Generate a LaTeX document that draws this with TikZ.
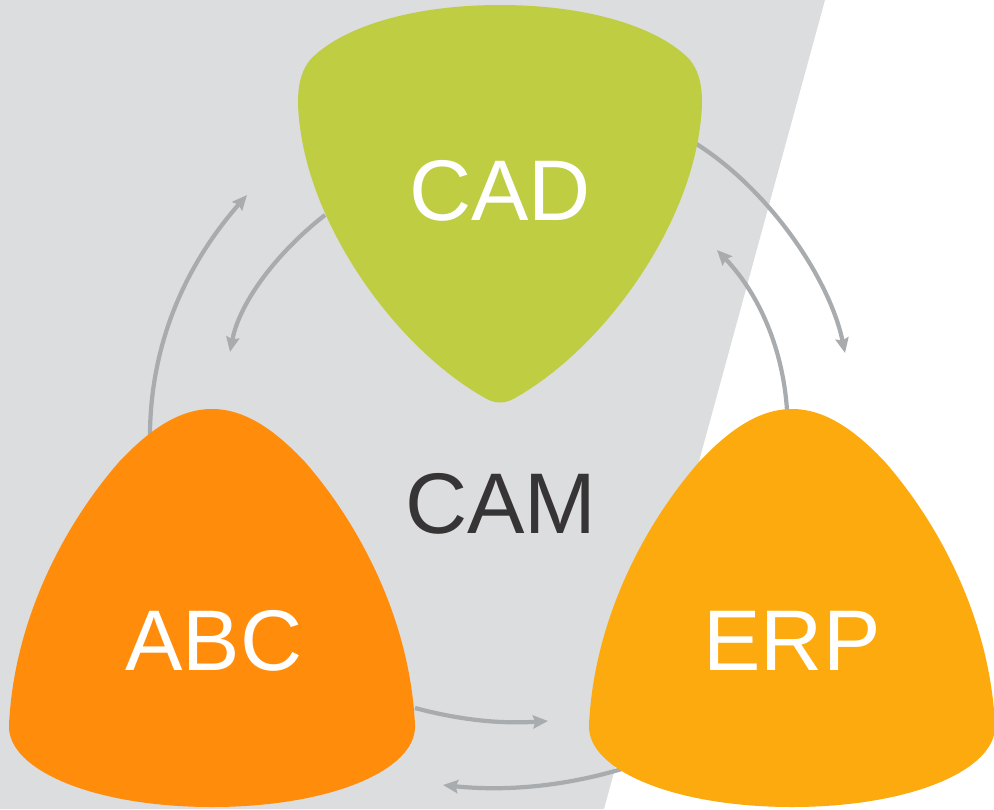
\documentclass[tikz,border=0pt]{standalone}
\usepackage{fontspec}
\setmainfont{Liberation Sans}
\usetikzlibrary{arrows.meta}
\definecolor{fondo}{HTML}{DCDDDF}
\definecolor{verde}{HTML}{BFCD42}
\definecolor{naranja}{HTML}{FF8C0B}
\definecolor{ambar}{HTML}{FDAA0E}
\definecolor{gris}{HTML}{A9ACAE}
\definecolor{oscuro}{HTML}{363435}
\tikzset{
	>={Stealth[length=8.5pt,width=7.5pt,inset=1.2pt]}, % Punta de las flechas
	flecha/.style={->, draw=gris, line width=2.4pt}, % Arcos entre los bloques
	etiqueta/.style={anchor=base, text=white, font=\fontsize{49}{49}\selectfont} % Texto de los bloques
}

\begin{document}
\begin{tikzpicture}[x=0.02cm, y=-0.02cm]
	\useasboundingbox (0,0) rectangle (994,809);
	\fill[fondo] (0,0) -- (825,0) -- (604,809) -- (0,809) -- cycle;

	% extremos de las flechas
	\coordinate (abcArr) at (150,445);
	\coordinate (cadIzq) at (247,195);
	\coordinate (cadSal) at (325,215);
	\coordinate (abcLleg) at (230,352);
	\coordinate (cadDer) at (695,143);
	\coordinate (erpLleg) at (845,353);
	\coordinate (erpArr) at (787,410);
	\coordinate (cadLleg) at (717,250);
	\coordinate (abcDer) at (415,708);
	\coordinate (camDer) at (548,721);
	\coordinate (erpIzq) at (625,768);
	\coordinate (camIzq) at (443,785);

	\draw[flecha] (abcArr) .. controls (148,340) and (190,260) .. (cadIzq);
	\draw[flecha] (cadSal) .. controls (280,250) and (240,300) .. (abcLleg);
	\draw[flecha] (cadDer) .. controls (770,190) and (830,280) .. (erpLleg);
	\draw[flecha] (erpArr) .. controls (783,350) and (760,295) .. (cadLleg);
	\draw[flecha] (abcDer) .. controls (460,720) and (500,724) .. (camDer);
	\draw[flecha] (erpIzq) .. controls (570,785) and (510,792) .. (camIzq);

	% bloques
	\fill[verde] (500,5) .. controls (590,5) and (660,28) .. (690,60)
		.. controls (706,80) and (703,110) .. (698,140)
		.. controls (680,240) and (600,350) .. (515,398)
		.. controls (505,404) and (495,404) .. (485,398)
		.. controls (400,350) and (320,240) .. (302,140)
		.. controls (297,110) and (294,80) .. (310,60)
		.. controls (340,28) and (410,5) .. (500,5) -- cycle;
	\foreach \dx/\col in {0/naranja, 580/ambar}
		\fill[\col, shift={(\dx,0)}] (212,409) .. controls (245,409) and (275,430) .. (305,462)
			.. controls (360,525) and (410,620) .. (415,725)
			.. controls (417,770) and (330,807) .. (212,807)
			.. controls (94,807) and (7,770) .. (9,725)
			.. controls (14,620) and (64,525) .. (119,462)
			.. controls (149,430) and (179,409) .. (212,409) -- cycle;

	\node[etiqueta] (cad) at (500,220) {CAD};
	\node[etiqueta, text=oscuro] (cam) at (501,533) {CAM};
	\node[etiqueta] (abc) at (214,670) {ABC};
	\node[etiqueta] (erp) at (792,670) {ERP};
\end{tikzpicture}
\end{document}
